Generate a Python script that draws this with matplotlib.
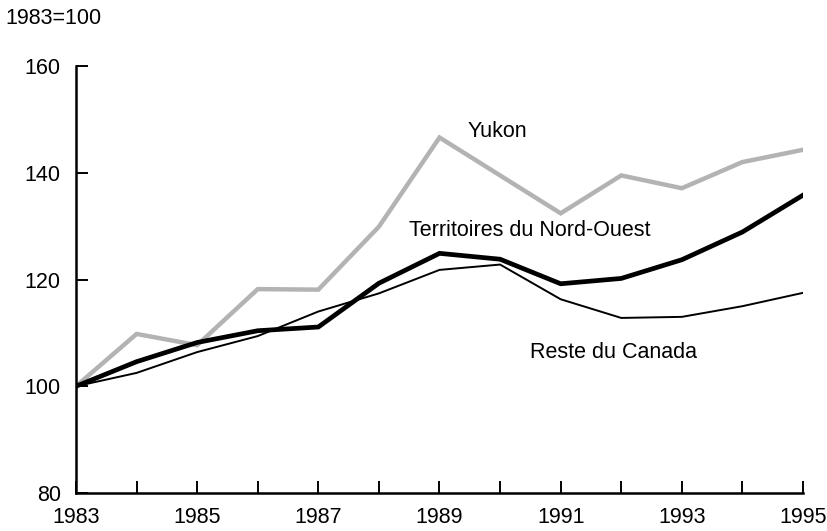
import matplotlib
matplotlib.use("Agg")
import matplotlib.pyplot as plt

plt.rcParams['font.family'] = ['Liberation Sans', 'DejaVu Sans']

years = list(range(1983, 1996))
yukon = [100, 109.8, 107.7, 118.2, 118.1, 129.9, 146.6, 139.5, 132.4, 139.5, 137.1, 142.0, 144.3]
nwt = [100, 104.6, 108.2, 110.4, 111.1, 119.3, 124.9, 123.8, 119.2, 120.2, 123.7, 128.9, 135.8]
reste = [100, 102.5, 106.4, 109.4, 114.0, 117.4, 121.8, 122.8, 116.3, 112.8, 113.0, 115.0, 117.5]

FS = 15.5
fig = plt.figure(figsize=(8.27, 5.31), dpi=100)
ax = fig.add_axes([76/827, 1-493/531, (803-76)/827, (493-66)/531])

ax.plot(years, reste, color='black', lw=1.4, solid_joinstyle='miter')
ax.plot(years, yukon, color='#b3b3b3', lw=3.2, solid_joinstyle='miter')
ax.plot(years, nwt, color='black', lw=3.4, solid_joinstyle='miter')

ax.set_xlim(1983, 1995)
ax.set_ylim(80, 160)
ax.set_xticks(years)
ax.set_xticklabels([str(y) if (y - 1983) % 2 == 0 else '' for y in years])
ax.set_yticks([80, 100, 120, 140, 160])
ax.tick_params(direction='in', length=8.5, width=1.4, labelsize=FS, color='black')
ax.tick_params(axis='x', pad=10)
ax.tick_params(axis='y', pad=11)
for s in ['top', 'right']:
    ax.spines[s].set_visible(False)
for s in ['left', 'bottom']:
    ax.spines[s].set_linewidth(1.8)

ax.text(1989.95, 147.8, 'Yukon', fontsize=FS, ha='center', va='center')
ax.text(1990.49, 129.1, 'Territoires du Nord-Ouest', fontsize=FS, ha='center', va='center')
ax.text(1991.87, 106.4, 'Reste du Canada', fontsize=FS, ha='center', va='center')
fig.text(5/827, 1-18/531, '1983=100', fontsize=FS, ha='left', va='center')

fig.savefig('out.png', dpi=100)
